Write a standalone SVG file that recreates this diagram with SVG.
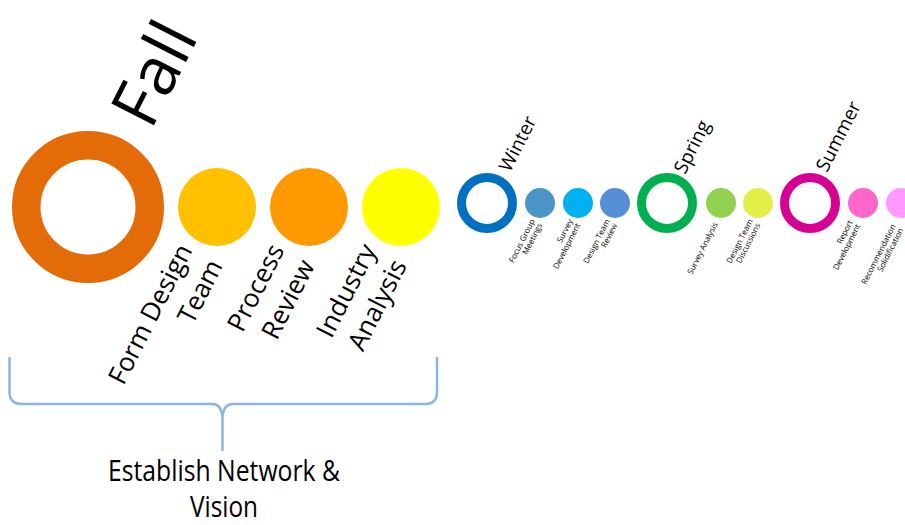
<svg xmlns="http://www.w3.org/2000/svg" width="905" height="525" viewBox="0 0 905 525">
<style>
  text { font-family: "Open Sans", "Noto Sans", "Liberation Sans", sans-serif; fill: #000; }
  .big { font-size: 26px; text-anchor: end; }
  .small { font-size: 8px; text-anchor: end; }
  .season { font-size: 19px; }
  .ring { fill: none; }
  .brace { fill: none; stroke: #8EB4E3; stroke-width: 2.5; stroke-linecap: round; stroke-linejoin: round; }
  .caption { font-size: 29px; text-anchor: middle; }
</style>
<rect width="905" height="525" fill="#fff"/>

<g id="fall">
  <circle class="ring" cx="88" cy="207" r="61.75" stroke="#E36C09" stroke-width="28.5"/>
  <text transform="translate(151,131) rotate(-63)" style="font-size:67px">Fall</text>
</g>

<g id="form-design-team">
  <circle cx="217" cy="207" r="39" fill="#FFC000"/>
  <text class="big" transform="translate(193,250) rotate(-63)"><tspan x="0" y="0">Form Design</tspan><tspan x="0" y="34">Team</tspan></text>
</g>
<g id="process-review">
  <circle cx="309" cy="207" r="39" fill="#FF9900"/>
  <text class="big" transform="translate(285,250) rotate(-63)"><tspan x="0" y="0">Process</tspan><tspan x="0" y="34">Review</tspan></text>
</g>
<g id="industry-analysis">
  <circle cx="401" cy="207" r="39" fill="#FFFF00"/>
  <text class="big" transform="translate(377,250) rotate(-63)"><tspan x="0" y="0">Industry</tspan><tspan x="0" y="34">Analysis</tspan></text>
</g>

<g id="winter">
  <circle class="ring" cx="487" cy="203" r="25.5" stroke="#0070C0" stroke-width="9"/>
  <text class="season" transform="translate(510,173) rotate(-63)">Winter</text>
</g>
<g id="focus-group-meetings">
  <circle cx="540" cy="203" r="15" fill="#4B96C7"/>
  <text class="small" transform="translate(535,221) rotate(-63)"><tspan x="0" y="0">Focus Group</tspan><tspan x="0" y="8.5">Meetings</tspan></text>
</g>
<g id="survey-development">
  <circle cx="578" cy="203" r="15" fill="#00B0F0"/>
  <text class="small" transform="translate(573,221) rotate(-63)"><tspan x="0" y="0">Survey</tspan><tspan x="0" y="8.5">Development</tspan></text>
</g>
<g id="design-team-review">
  <circle cx="615" cy="203" r="15" fill="#558ED5"/>
  <text class="small" transform="translate(610,221) rotate(-63)"><tspan x="0" y="0">Design Team</tspan><tspan x="0" y="8.5">Review</tspan></text>
</g>

<g id="spring">
  <circle class="ring" cx="667" cy="203" r="25.5" stroke="#00B050" stroke-width="9"/>
  <text class="season" transform="translate(685,175) rotate(-63)">Spring</text>
</g>
<g id="survey-analysis">
  <circle cx="721" cy="203" r="15" fill="#92D050"/>
  <text class="small" transform="translate(718,224) rotate(-63)">Survey Analysis</text>
</g>
<g id="design-team-discussions">
  <circle cx="758" cy="203" r="15" fill="#E2EF48"/>
  <text class="small" transform="translate(753,221) rotate(-63)"><tspan x="0" y="0">Design Team</tspan><tspan x="0" y="8.5">Discussions</tspan></text>
</g>

<g id="summer">
  <circle class="ring" cx="810" cy="203" r="25.5" stroke="#D60093" stroke-width="9"/>
  <text class="season" transform="translate(827,173) rotate(-63)">Summer</text>
</g>
<g id="report-development">
  <circle cx="863" cy="203" r="15" fill="#FF66CC"/>
  <text class="small" transform="translate(853,222) rotate(-63)"><tspan x="0" y="0">Report</tspan><tspan x="0" y="8.5">Development</tspan></text>
</g>
<g id="recommendation-solidification">
  <circle cx="901" cy="203" r="15" fill="#FF99FF"/>
  <text class="small" transform="translate(896,226) rotate(-63)"><tspan x="0" y="0">Recommendation</tspan><tspan x="0" y="8.5">Solidification</tspan></text>
</g>

<g id="connectors">
  <path class="brace" d="M9.5 358 V392 Q9.5 404 22 404 H212 Q222.5 404 222.5 420 V450 M222.5 420 Q222.5 404 233 404 H425 Q437 404 437 392 V358"/>
</g>

<g id="establish-network-vision">
  <text class="caption"><tspan x="224" y="481" textLength="232" lengthAdjust="spacingAndGlyphs">Establish Network &amp;</tspan><tspan x="224" y="517" textLength="68" lengthAdjust="spacingAndGlyphs">Vision</tspan></text>
</g>
</svg>
